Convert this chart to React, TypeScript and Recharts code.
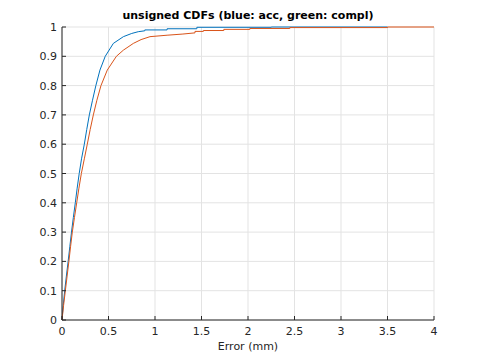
import React from 'react'
import { LineChart, Line, XAxis, YAxis, CartesianGrid } from 'recharts'

// Empirical CDFs: error (mm) vs. cumulative fraction; tail keeps its visible stair corners
const blueX = [0, 0.013, 0.029, 0.047, 0.066, 0.084, 0.102, 0.122, 0.143, 0.163, 0.185, 0.21, 0.24, 0.266, 0.294, 0.328, 0.364, 0.408, 0.465, 0.552, 0.66, 0.75, 0.82, 0.89, 0.89, 1.13, 1.13, 1.45, 1.45, 2.25, 2.25, 3.5]
const blueY = [0, 0.05, 0.1, 0.15, 0.2, 0.25, 0.3, 0.35, 0.4, 0.45, 0.5, 0.55, 0.6, 0.65, 0.7, 0.75, 0.8, 0.853, 0.9, 0.944, 0.967, 0.978, 0.984, 0.987, 0.99, 0.99, 0.994, 0.994, 0.999, 0.999, 1, 1]

const redX = [0, 0.017, 0.036, 0.055, 0.074, 0.092, 0.111, 0.134, 0.158, 0.182, 0.208, 0.24, 0.272, 0.303, 0.337, 0.375, 0.419, 0.487, 0.585, 0.66, 0.767, 0.85, 0.946, 1.13, 1.3, 1.43, 1.43, 1.52, 1.52, 1.74, 1.74, 2.02, 2.02, 2.45, 2.45, 3.5, 3.5, 4]
const redY = [0, 0.05, 0.1, 0.15, 0.2, 0.25, 0.3, 0.35, 0.4, 0.45, 0.5, 0.55, 0.6, 0.65, 0.7, 0.75, 0.8, 0.853, 0.9, 0.921, 0.944, 0.957, 0.967, 0.972, 0.976, 0.98, 0.985, 0.985, 0.988, 0.988, 0.992, 0.992, 0.995, 0.995, 0.998, 0.998, 1, 1]

const xTicks = [0, 0.5, 1, 1.5, 2, 2.5, 3, 3.5, 4]
const yTicks = [0, 0.1, 0.2, 0.3, 0.4, 0.5, 0.6, 0.7, 0.8, 0.9, 1]

const blueData = blueX.map((x, i) => ({ x, y: blueY[i] }))
const redData = redX.map((x, i) => ({ x, y: redY[i] }))

const AXIS = '#262626'
const FONT = 'DejaVu Sans'

// MATLAB style: ticks point inward
const BottomTick = ({ x, y, payload }: any) => (
  <g>
    <line x1={x} x2={x} y1={y} y2={y - 4} stroke={AXIS} />
    <text x={x} y={y + 15} textAnchor="middle" fill={AXIS} fontSize={11} fontFamily={FONT}>
      {String(payload.value)}
    </text>
  </g>
)

const LeftTick = ({ x, y, payload }: any) => (
  <g>
    <line x1={x} x2={x + 4} y1={y} y2={y} stroke={AXIS} />
    <text x={x - 5} y={y + 4} textAnchor="end" fill={AXIS} fontSize={11} fontFamily={FONT}>
      {String(payload.value)}
    </text>
  </g>
)

const TopTick = ({ x, y }: any) => <line x1={x} x2={x} y1={y} y2={y + 4} stroke={AXIS} />
const RightTick = ({ x, y }: any) => <line x1={x} x2={x - 4} y1={y} y2={y} stroke={AXIS} />

export default function App() {
  return (
    <div style={{ position: 'absolute', left: 0, top: 0, width: 480, height: 360, background: '#fff' }}>
      <LineChart width={480} height={360} margin={{ top: 27, right: 46, bottom: 0, left: 32 }}>
        <CartesianGrid stroke="#e3e3e3" />
        <XAxis
          type="number"
          dataKey="x"
          domain={[0, 4]}
          ticks={xTicks}
          interval={0}
          height={40}
          tickSize={0}
          tickMargin={0}
          tickLine={false}
          stroke={AXIS}
          tick={<BottomTick />}
        />
        <XAxis
          xAxisId="top"
          orientation="top"
          type="number"
          dataKey="x"
          domain={[0, 4]}
          ticks={xTicks}
          interval={0}
          height={0}
          tickSize={0}
          tickMargin={0}
          tickLine={false}
          stroke={AXIS}
          tick={<TopTick />}
        />
        <YAxis
          type="number"
          domain={[0, 1]}
          ticks={yTicks}
          interval={0}
          width={30}
          tickSize={0}
          tickMargin={0}
          tickLine={false}
          stroke={AXIS}
          tick={<LeftTick />}
        />
        <YAxis
          yAxisId="right"
          orientation="right"
          type="number"
          domain={[0, 1]}
          ticks={yTicks}
          interval={0}
          width={0}
          tickSize={0}
          tickMargin={0}
          tickLine={false}
          stroke={AXIS}
          tick={<RightTick />}
        />
        <Line data={blueData} dataKey="y" type="linear" stroke="#0072BD" strokeWidth={1} dot={false} isAnimationActive={false} />
        <Line data={redData} dataKey="y" type="linear" stroke="#D95319" strokeWidth={1} dot={false} isAnimationActive={false} />
      </LineChart>
      <svg width={480} height={360} style={{ position: 'absolute', left: 0, top: 0, pointerEvents: 'none' }}>
        <text x={248} y={19} textAnchor="middle" fontSize={11} fontWeight="bold" fill="#000" fontFamily={FONT}>
          unsigned CDFs (blue: acc, green: compl)
        </text>
        <text x={248} y={350} textAnchor="middle" fontSize={11} fill={AXIS} fontFamily={FONT}>
          Error (mm)
        </text>
      </svg>
    </div>
  )
}
